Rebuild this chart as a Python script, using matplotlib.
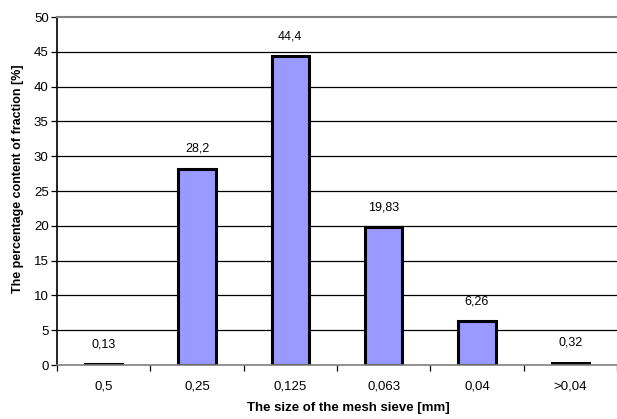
import matplotlib
matplotlib.use("Agg")
import matplotlib.pyplot as plt
import numpy as np

plt.rcParams['font.family'] = ['Liberation Sans', 'DejaVu Sans']

categories = ["0,5", "0,25", "0,125", "0,063", "0,04", ">0,04"]
values = [0.13, 28.2, 44.4, 19.83, 6.26, 0.32]
value_labels = ["0,13", "28,2", "44,4", "19,83", "6,26", "0,32"]
yticks = [0, 5, 10, 15, 20, 25, 30, 35, 40, 45, 50]

fig = plt.figure(figsize=(6.17, 4.19), dpi=100)
ax = fig.add_axes([57/617, 54/419, 560/617, 348/419])

x = np.arange(len(categories))
ax.set_axisbelow(True)
for yv in yticks[1:-1]:
    ax.axhline(yv, color='black', lw=0.9, zorder=0)
ax.bar(x, values, width=0.4, color='#9999FF', edgecolor='black', linewidth=2.2, zorder=2)
for xi, v, lab in zip(x, values, value_labels):
    ax.text(xi, v + 2.0, lab, ha='center', va='bottom', fontsize=9)

ax.set_xlim(-0.5, len(categories) - 0.5)
ax.set_ylim(0, 50)
ax.set_yticks(yticks)
ax.set_yticklabels([str(t) for t in yticks], fontsize=9.5)
ax.set_xticks(np.arange(-0.5, len(categories) - 0.4, 1.0), minor=False)
ax.set_xticklabels([])
ax.set_xticks(x, minor=True)
ax.set_xticklabels(categories, minor=True, fontsize=9.5)
ax.tick_params(axis='x', which='major', length=4, width=0.9, direction='out')
ax.tick_params(axis='x', which='minor', length=0, pad=11)
ax.tick_params(axis='y', length=4, width=0.9, direction='out', pad=2)

ax.spines['right'].set_visible(False)
ax.spines['top'].set_color('#808080')
ax.spines['top'].set_linewidth(1.5)
ax.spines['left'].set_color('black')
ax.spines['left'].set_linewidth(1.2)
ax.spines['bottom'].set_color('#808080')
ax.spines['bottom'].set_linewidth(1.2)

ax.set_xlabel('The size of the mesh sieve [mm]', fontsize=9.5, fontweight='bold')
ax.set_ylabel('The percentage content of fraction [%]', fontsize=9, fontweight='bold')
ax.xaxis.set_label_coords(0.52, -37/348)
ax.yaxis.set_label_coords(-33/560, 0.534)

fig.savefig('out.png', dpi=100)
